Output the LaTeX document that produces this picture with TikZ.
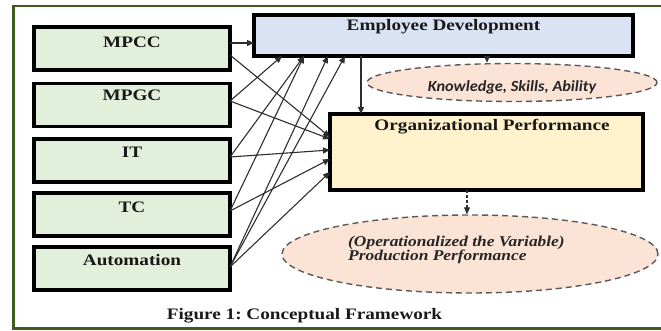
\documentclass[tikz,border=0pt]{standalone}
\usepackage{fontspec}
\setmainfont{Liberation Serif}
\newfontfamily\serifwide[FakeStretch=1.2]{Liberation Serif}
\newfontfamily\serifmid[FakeStretch=1.16]{Liberation Serif}
\newfontfamily\calisans[FakeStretch=1.05]{Carlito}
\usetikzlibrary{arrows.meta,calc,shapes.geometric}
\frenchspacing

\definecolor{framegreen}{HTML}{3D5C22}
\definecolor{ivfill}{HTML}{E2EFDA}
\definecolor{edfill}{HTML}{DAE3F3}
\definecolor{opfill}{HTML}{FFF2CC}
\definecolor{ovalfill}{HTML}{FBE3D6}
\definecolor{ovalline}{HTML}{5A5A5A}
\definecolor{linkgray}{HTML}{2E2E2E}

\tikzset{
  boxstyle/.style={draw=black, line width=3.5pt, inner sep=0pt, outer sep=0pt},
  ivbox/.style={boxstyle, fill=ivfill, minimum width=196pt, minimum height=43pt},
  boxlabel/.style={font=\serifwide\bfseries\fontsize{16}{18}\selectfont, text=black!90, inner sep=0pt},
  oval/.style={ellipse, draw=ovalline, fill=ovalfill, line width=1.4pt,
               dash pattern=on 6pt off 4pt, inner sep=0pt},
  link/.style={draw=linkgray, line width=1.1pt, -{Triangle[length=7pt,width=6pt]}},
  dashlink/.style={link, dash pattern=on 3pt off 2pt},
}

\begin{document}
\begin{tikzpicture}[x=1pt, y=-1pt]
\useasboundingbox (0,0) rectangle (661,331);

% outer frame, open on the right
\draw[framegreen, line width=2.8pt] (700,6) -- (13.7,6) -- (13.7,328.5) -- (700,328.5);

% independent variables
\node[ivbox] (mpcc) at (132,48.5) {};
\node[ivbox] (mpgc) at (132,105) {};
\node[ivbox] (it)   at (132,160.5) {};
\node[ivbox] (tc)   at (132,214.5) {};
\node[ivbox] (auto) at (132,268.5) {};
\node[boxlabel] (mpcctext) at ([yshift=6.5pt]mpcc.center) {MPCC};
\node[boxlabel] (mpgctext) at ([yshift=10pt]mpgc.center) {MPGC};
\node[boxlabel] (ittext)   at ([yshift=8.5pt]it.center) {IT};
\node[boxlabel] (tctext)   at ([yshift=7.5pt]tc.center) {TC};
\node[boxlabel] (autotext) at ([yshift=8.5pt]auto.center) {Automation};

% mediator and outcome
\node[boxstyle, fill=edfill, minimum width=379pt, minimum height=41pt] (ed) at (443.5,35.5) {};
\node[boxlabel] (edtext) at ([yshift=8.5pt]ed.center) {Employee Development};
\node[boxstyle, fill=opfill, minimum width=313pt, minimum height=76pt] (op) at (486.5,152) {};
\node[boxlabel] (optext) at (492,127) {Organizational Performance};

% ovals
\node[oval, minimum width=290pt, minimum height=38pt] (ksa) at (512,82.5) {};
\node[font=\calisans\bfseries\itshape\fontsize{15.5}{17}\selectfont, text=black!85, inner sep=0pt]
  (ksatext) at (512,87.5) {Knowledge, Skills, Ability};
\node[oval, minimum width=376pt, minimum height=78pt] (prod) at (470,254) {};
\node[font=\serifmid\bfseries\itshape\fontsize{15}{14.5}\selectfont, text=black!85,
      align=left, anchor=west, inner sep=0pt]
  (prodtext) at (348,250) {(Operationalized the Variable)\\Production Performance};

% caption
\node[font=\serifwide\bfseries\fontsize{16}{18}\selectfont, text=black!90, inner sep=0pt]
  (caption) at (304.5,316) {Figure 1: Conceptual Framework};

% attachment points on the box edges
\coordinate (edA) at ($(ed.south west)+(28,0)$);
\coordinate (edB) at ($(ed.south west)+(50,0)$);
\coordinate (edC) at ($(ed.south west)+(74,0)$);
\coordinate (edD) at ($(ed.south west)+(91,0)$);
\coordinate (edE) at ($(ed.south west)+(107,0)$);
\coordinate (edF) at ($(ed.south west)+(233,0)$);
\coordinate (opA) at ($(op.north west)+(0,23)$);
\coordinate (opB) at ($(op.north west)+(0,25)$);
\coordinate (opC) at ($(op.north west)+(0,36)$);
\coordinate (opD) at ($(op.north west)+(0,45)$);
\coordinate (opE) at ($(op.north west)+(0,58)$);
\coordinate (opF) at ($(op.south west)+(137,0)$);

% links into Employee Development
\draw[link] ([yshift=5.5pt]mpcc.east) -- ([yshift=5.5pt]mpcc.east -| ed.west);
\draw[link] ([yshift=4pt]mpgc.east) -- (edA);
\draw[link] ([yshift=3.5pt]it.east)  -- (edB);
\draw[link] ([yshift=3.5pt]tc.east)  -- (edB);
\draw[link] ([yshift=1.5pt]auto.east) -- (edC);
\draw[link] ([yshift=1.5pt]auto.east) -- (edD);

% links into Organizational Performance
\draw[link] ([yshift=-6.5pt]mpcc.east) -- (opA);
\draw[link] ([yshift=4pt]mpgc.east) -- (opB);
\draw[link] ([yshift=3.5pt]it.east)  -- (opC);
\draw[link] ([yshift=3.5pt]tc.east)  -- (opD);
\draw[link] ([yshift=1.5pt]auto.east) -- (opE);

% mediator paths
\draw[link] (edE) -- (edE |- op.north);
\draw[dashlink] (edF) -- (edF |- ksa.north);
\draw[dashlink] (opF) -- (opF |- prod.north);
\end{tikzpicture}
\end{document}
